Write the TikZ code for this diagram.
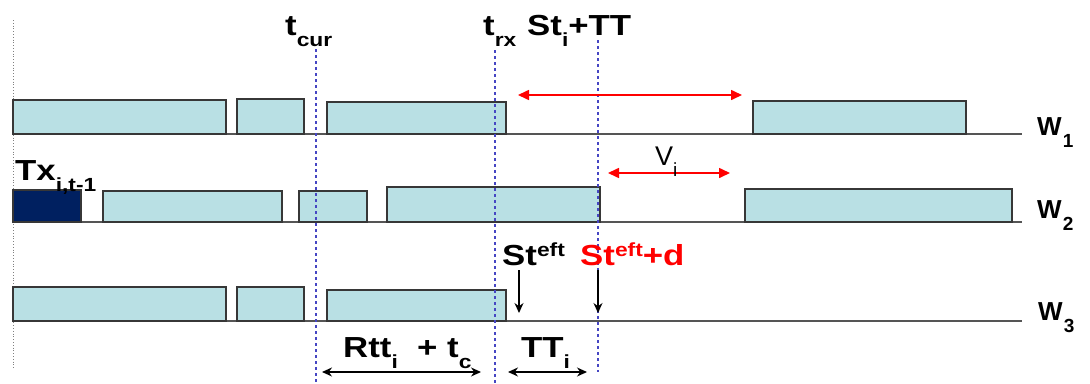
\documentclass[tikz,border=0pt]{standalone}
\usepackage{fontspec}
\setmainfont{Liberation Sans}
\usetikzlibrary{arrows.meta}
\definecolor{slotfill}{RGB}{185,224,228}
\definecolor{navyfill}{RGB}{0,32,96}
\definecolor{guidecol}{RGB}{70,70,195}
\definecolor{edgecol}{RGB}{55,55,55}
\newcommand\lsb[1]{\raisebox{-11pt}{\fontsize{19}{19}\selectfont #1}}
\newcommand\lsp[1]{\raisebox{9pt}{\fontsize{19}{19}\selectfont #1}}
\newcommand\wsb[1]{\kern1pt\raisebox{-12pt}{\fontsize{19}{19}\selectfont #1}}
\newcommand\lw[1]{\scalebox{1.2}[1]{#1}}
\begin{document}
\begin{tikzpicture}[x=1pt,y=-1pt,
  slot/.style={draw=edgecol, line width=1.3pt, fill=slotfill},
  txslot/.style={draw=edgecol, line width=1.3pt, fill=navyfill},
  wline/.style={draw=edgecol!85, line width=1.6pt},
  guide/.style={draw=guidecol, line width=1.2pt, dash pattern=on 3pt off 3pt},
  lbl/.style={font=\fontsize{29}{32}\selectfont\bfseries, inner sep=0pt, anchor=base west},
  wlbl/.style={font=\fontsize{26}{30}\selectfont\bfseries, inner sep=0pt, anchor=base west},
  vlbl/.style={font=\fontsize{27}{30}\selectfont, inner sep=0pt, anchor=base west},
  redarr/.style={draw=red, line width=1.6pt, {Triangle[length=11pt,width=10pt]}-{Triangle[length=11pt,width=10pt]}},
  blkarr/.style={draw=black, line width=1.3pt, -{Stealth[length=10pt,width=9pt]}},
  blkdbl/.style={draw=black, line width=1.3pt, {Stealth[length=10pt,width=9pt]}-{Stealth[length=10pt,width=9pt]}}]
\useasboundingbox (0,0) rectangle (1090,383);
\fill[white] (0,0) rectangle (1090,383);

% left reference line
\coordinate (lt) at (13,20);
\coordinate (lb) at (13,368);
\draw[gray, line width=0.8pt, dotted] (lt) -- (lb);

% wavelength lines
\coordinate (w1a) at (13,134); \coordinate (w1b) at (1022,134);
\coordinate (w2a) at (13,222); \coordinate (w2b) at (1022,222);
\coordinate (w3a) at (13,321); \coordinate (w3b) at (1022,321);
\draw[wline] (w1a) -- (w1b);
\draw[wline] (w2a) -- (w2b);
\draw[wline] (w3a) -- (w3b);

% W1 slots
\draw[slot] (13,100) rectangle (226,134);
\draw[slot] (237,99) rectangle (304,134);
\draw[slot] (327,102) rectangle (506,134);
\draw[slot] (753,101) rectangle (966,134);

% W2 slots
\draw[txslot] (13,190) rectangle (81,222);
\draw[slot] (103,191) rectangle (282,222);
\draw[slot] (299,191) rectangle (367,222);
\draw[slot] (387,187) rectangle (600,222);
\draw[slot] (745,189) rectangle (1012,222);

% W3 slots
\draw[slot] (13,287) rectangle (226,321);
\draw[slot] (237,287) rectangle (304,321);
\draw[slot] (327,290) rectangle (506,321);

% guides
\coordinate (gc1) at (316,49);  \coordinate (gc2) at (316,383);
\coordinate (gr1) at (495,50);  \coordinate (gr2) at (495,383);
\coordinate (gs1) at (598,40);  \coordinate (gs2) at (598,372);
\draw[guide] (gc1) -- (gc2);
\draw[guide] (gr1) -- (gr2);
\draw[guide] (gs1) -- (gs2);

% top labels
\node[lbl] (tcur) at (285,35) {\lw{t\lsb{cur}}};
\node[lbl] (trx) at (483,35) {\lw{t\lsb{rx}}};
\node[lbl] (stit) at (527,35) {\lw{St\lsb{i}+TT}};

% wavelength labels
\node[wlbl] (W1) at (1037,135) {W\wsb{1}};
\node[wlbl] (W2) at (1037,218) {W\wsb{2}};
\node[wlbl] (W3) at (1038,320) {W\wsb{3}};

% Tx label
\node[lbl] (tx) at (15,180) {\lw{Tx\lsb{i,t-1}}};

% red arrows
\coordinate (ra1) at (518,95); \coordinate (ra2) at (742,95);
\draw[redarr] (ra1) -- (ra2);
\coordinate (va1) at (608,173); \coordinate (va2) at (730,173);
\draw[redarr] (va1) -- (va2);
\node[vlbl] (vi) at (655,165) {V\lsb{i}};

% St eft labels
\node[lbl] (steft) at (502,265) {\lw{St\lsp{eft}}};
\node[lbl, text=red] (steftd) at (580,265) {\lw{St\lsp{eft}+d}};
\coordinate (sa1) at (519,270); \coordinate (sa2) at (519,313);
\draw[blkarr] (sa1) -- (sa2);
\coordinate (sd1) at (598,270); \coordinate (sd2) at (598,313);
\draw[blkarr] (sd1) -- (sd2);

% bottom intervals
\node[lbl] (rtt) at (343,357) {\lw{Rtt\lsb{i}\ \ + t\lsb{c}}};
\coordinate (rb1) at (322,372); \coordinate (rb2) at (481,372);
\draw[blkdbl] (rb1) -- (rb2);
\node[lbl] (tti) at (521,357) {\lw{TT\lsb{i}}};
\coordinate (tb1) at (508,372); \coordinate (tb2) at (587,372);
\draw[blkdbl] (tb1) -- (tb2);
\end{tikzpicture}
\end{document}
